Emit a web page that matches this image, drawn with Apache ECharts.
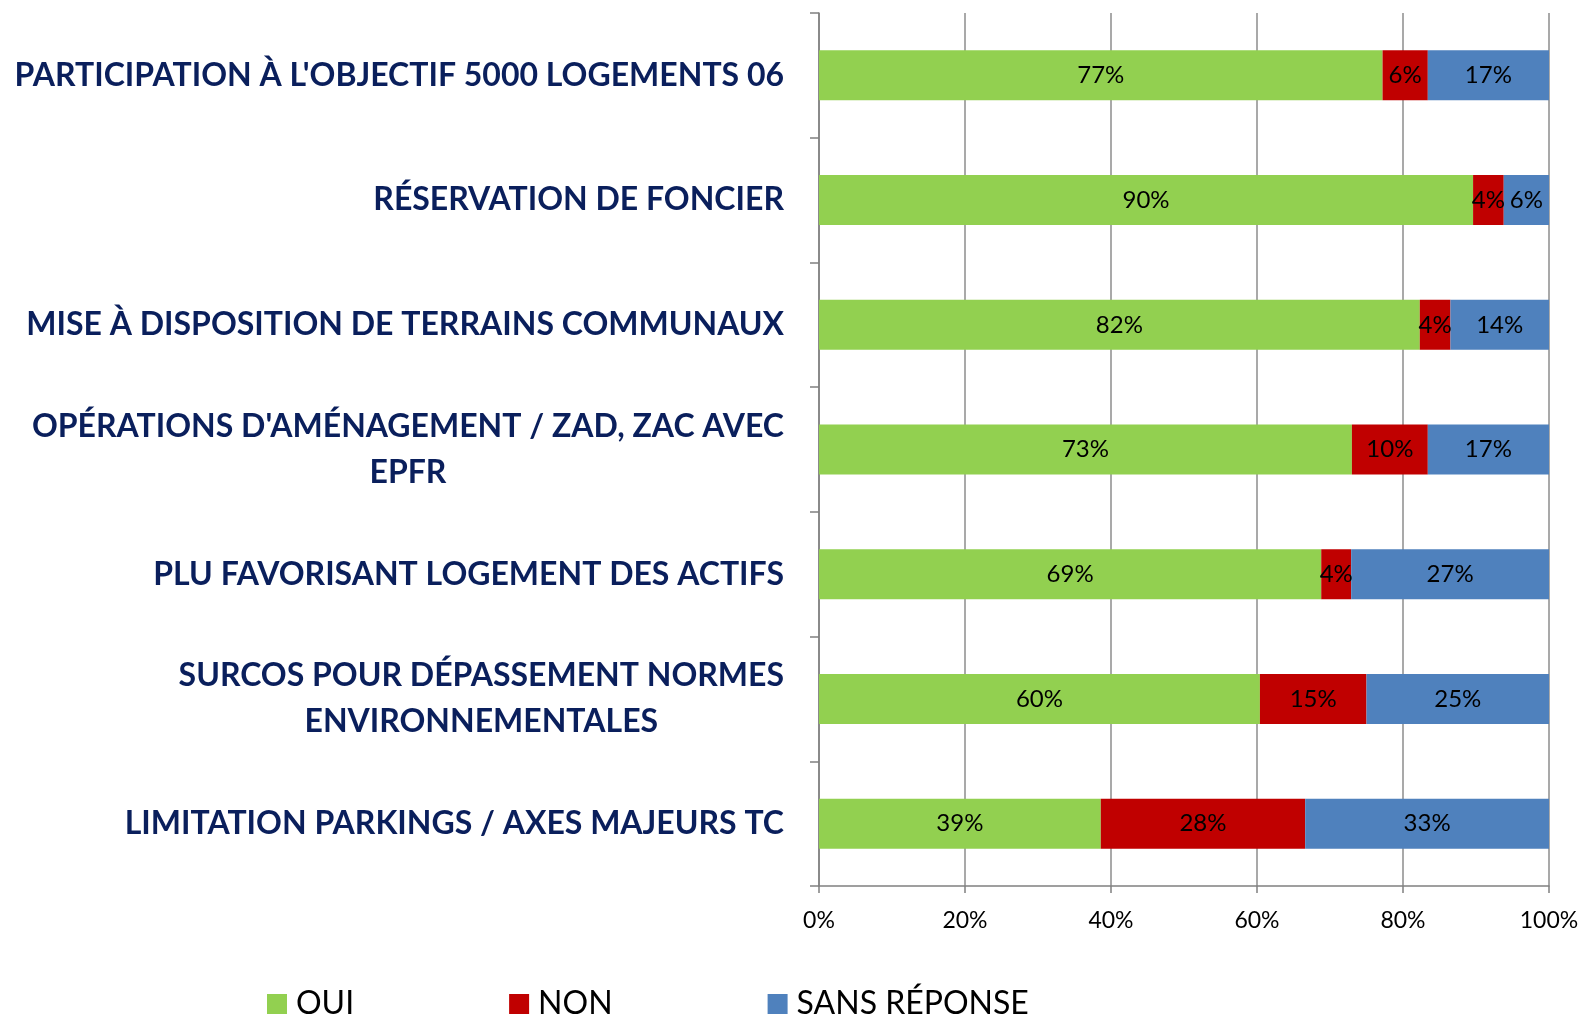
<!DOCTYPE html>
<html>
<head>
<meta charset="utf-8">
<script src="https://cdn.jsdelivr.net/npm/echarts@6/dist/echarts.min.js"></script>
<style>
  html, body { margin: 0; padding: 0; background: #fff; }
  #main { width: 1582px; height: 1018px; }
</style>
</head>
<body>
<div id="main"></div>
<script>
// categories, top to bottom
var categories = [
  "PARTICIPATION À L'OBJECTIF 5000 LOGEMENTS 06",
  "RÉSERVATION DE FONCIER",
  "MISE À DISPOSITION DE TERRAINS COMMUNAUX",
  "OPÉRATIONS D'AMÉNAGEMENT / ZAD, ZAC AVEC\nEPFR",
  "PLU FAVORISANT LOGEMENT DES ACTIFS",
  "SURCOS POUR DÉPASSEMENT NORMES\nENVIRONNEMENTALES",
  "LIMITATION PARKINGS / AXES MAJEURS TC"
];
var seriesNames = ['OUI', 'NON', 'SANS RÉPONSE'];
// shares in %
var oui = [77.2, 89.6, 82.3, 73.0, 68.8, 60.4, 38.6];
var non = [6.2, 4.2, 4.2, 10.4, 4.1, 14.6, 28.0];
var sansReponse = [16.6, 6.2, 13.5, 16.6, 27.1, 25.0, 33.4];
var xTicks = [0, 20, 40, 60, 80, 100];

var colors = ['#92D050', '#C00000', '#4F81BD'];

var myChart = echarts.init(document.getElementById('main'));

function makeSeries(name, data, color) {
  return {
    name: name,
    type: 'bar',
    stack: 'total',
    data: data,
    barWidth: 50,
    itemStyle: { color: color },
    label: {
      show: true,
      position: 'inside',
      color: '#000',
      fontFamily: 'Lato',
      fontSize: 24,
      formatter: function (p) { return Math.round(p.value) + '%'; }
    }
  };
}

myChart.setOption({
  animation: false,
  textStyle: { fontFamily: 'Lato' },
  grid: { left: 819, right: 33, top: 13, bottom: 132, containLabel: false },
  legend: {
    left: 262,
    top: 983,
    itemWidth: 20,
    itemHeight: 20,
    itemGap: 155,
    icon: 'rect',
    textStyle: { fontSize: 32, color: '#000', fontFamily: 'Lato', padding: [0, 0, 0, 4] },
    data: seriesNames
  },
  xAxis: {
    type: 'value',
    min: xTicks[0],
    max: xTicks[xTicks.length - 1],
    interval: 20,
    axisLine: { show: true, lineStyle: { color: '#808080', width: 1.5 } },
    axisTick: { show: true, length: 7, lineStyle: { color: '#808080', width: 1.5 } },
    axisLabel: { fontSize: 23, color: '#000', margin: 23, formatter: '{value}%' },
    splitLine: { show: true, lineStyle: { color: '#8c8c8c', width: 1.5 } }
  },
  yAxis: {
    type: 'category',
    inverse: true,
    data: categories,
    axisLine: { show: true, lineStyle: { color: '#808080', width: 1.5 } },
    axisTick: { show: true, length: 9, lineStyle: { color: '#808080', width: 1.5 } },
    axisLabel: {
      margin: 35,
      formatter: function (v) {
        return v.split('\n').map(function (s) { return '{c|' + s + '}'; }).join('\n');
      },
      rich: {
        c: {
          align: 'center',
          fontFamily: 'Lato',
          fontWeight: 'bold',
          fontSize: 32,
          lineHeight: 46,
          color: '#0A1F5C'
        }
      }
    }
  },
  series: [
    makeSeries(seriesNames[0], oui, colors[0]),
    makeSeries(seriesNames[1], non, colors[1]),
    makeSeries(seriesNames[2], sansReponse, colors[2])
  ]
});
</script>
</body>
</html>
